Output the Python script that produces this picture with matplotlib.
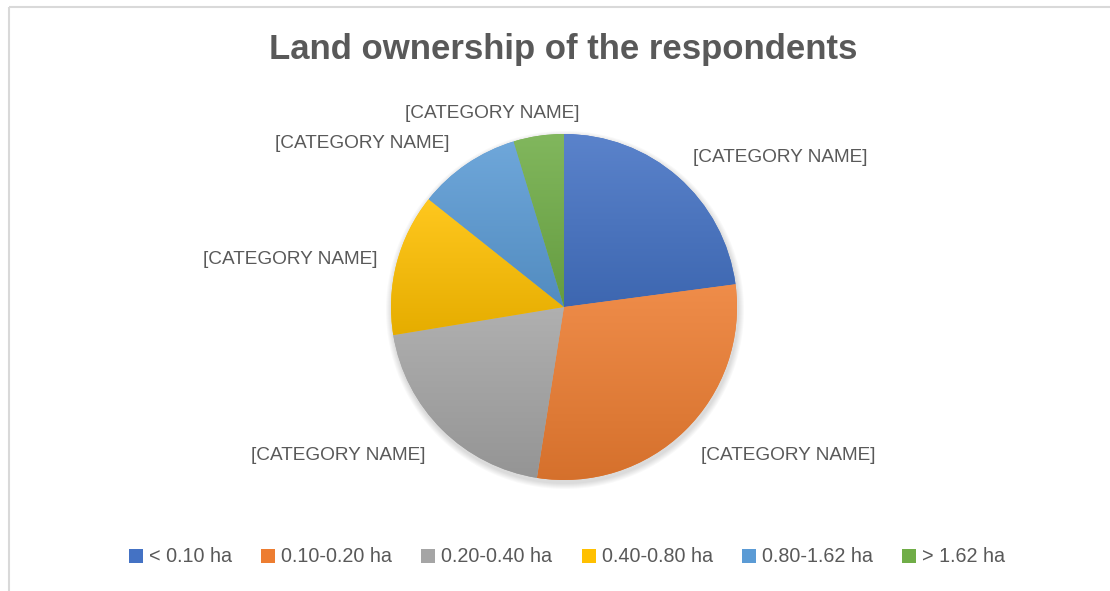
import matplotlib
matplotlib.use("Agg")
import matplotlib.pyplot as plt
import numpy as np
from matplotlib.colors import LinearSegmentedColormap, to_rgb
from matplotlib.patches import Patch

# data
categories = ['< 0.10 ha', '0.10-0.20 ha', '0.20-0.40 ha', '0.40-0.80 ha', '0.80-1.62 ha', '> 1.62 ha']
shares = [22.9, 29.6, 19.9, 13.3, 9.6, 4.7]
colors = ['#4472C4', '#ED7D31', '#A5A5A5', '#FFC000', '#5B9BD5', '#70AD47']
label_text = '[CATEGORY NAME]'

# where excel put the data labels (pixels, from top-left)
label_pos = [(780, 157), (788, 455), (338, 455), (290, 260), (362, 143), (492, 113)]

W, H = 1110, 591
fam = ['Liberation Sans', 'DejaVu Sans']
txt_col = '#595959'

fig = plt.figure(figsize=(W / 100, H / 100), dpi=100)
ax = fig.add_axes([0, 0, 1, 1])

cx, cy, r = 564, H - 307, 173

# soft shadow under the pie
for k in range(6):
    ax.add_patch(plt.Circle((cx + 1, cy - 3), r + 1 + k, color='#000000', alpha=0.025, lw=0, zorder=1))

wedges, _ = ax.pie(shares, colors=colors, startangle=90, counterclock=False,
                   center=(cx, cy), radius=r, frame=True)
ax.set_aspect('equal')
ax.axis('off')

def mix(c, t, a):
    c = np.array(to_rgb(c)); t = np.array(to_rgb(t))
    return tuple(c * (1 - a) + t * a)

# vertical gradient fill per slice, light on top, darker at the bottom
for w, c in zip(wedges, colors):
    th = np.radians(np.linspace(w.theta1, w.theta2, 200))
    xs = np.concatenate([[cx], cx + r * np.cos(th)])
    ys = np.concatenate([[cy], cy + r * np.sin(th)])
    cmap = LinearSegmentedColormap.from_list('g', [mix(c, 'black', 0.10), mix(c, 'white', 0.12)])
    grad = np.linspace(0, 1, 256).reshape(-1, 1)
    im = ax.imshow(grad, cmap=cmap, origin='lower', aspect='auto',
                   extent=[xs.min(), xs.max(), ys.min(), ys.max()], zorder=3)
    im.set_clip_path(w)
    w.set_zorder(2)

ax.set_xlim(0, W)
ax.set_ylim(0, H)

for (x, y) in label_pos:
    ax.text(x, H - y, label_text, ha='center', va='center', fontsize=13.7,
            color=txt_col, family=fam, zorder=5)

ax.text(563, H - 50, 'Land ownership of the respondents', ha='center', va='center',
        fontsize=25, fontweight='bold', color=txt_col, family=fam)

# chart area border
ax.plot([8.5, W], [H - 6.5, H - 6.5], color='#d9d9d9', lw=1.5, solid_capstyle='butt')
ax.plot([8.5, 8.5], [H - 6.5, 0], color='#d9d9d9', lw=1.5, solid_capstyle='butt')

handles = [Patch(facecolor=c, edgecolor='none') for c in colors]
fig.legend(handles, categories, loc='center', bbox_to_anchor=(567 / W, 1 - 557 / H), ncol=6,
           frameon=False, handlelength=0.7, handleheight=0.7, handletextpad=0.3,
           columnspacing=1.5, prop={'family': fam, 'size': 14.2}, labelcolor=txt_col)

fig.savefig('out.png', dpi=100, facecolor='white')
